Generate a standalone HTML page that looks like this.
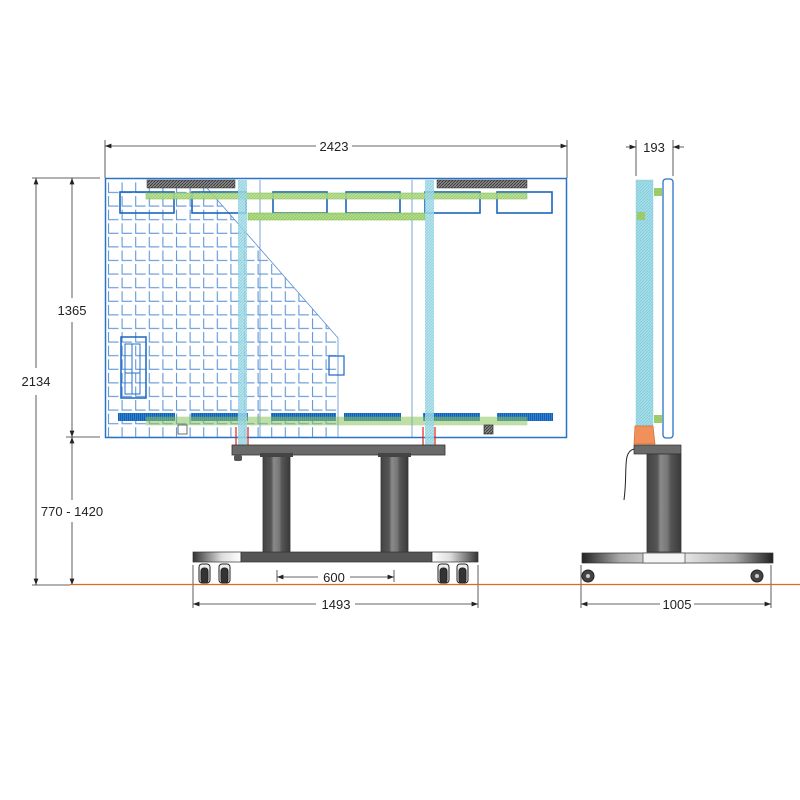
<!DOCTYPE html>
<html><head><meta charset="utf-8"><style>
html,body{margin:0;padding:0;background:#fff;width:800px;height:800px;overflow:hidden}
svg{display:block}
text{font-family:"Liberation Sans",sans-serif;font-size:13px;fill:#222}
</style></head><body>
<svg width="800" height="800" viewBox="0 0 800 800" xmlns="http://www.w3.org/2000/svg">
<defs>
<pattern id="grid" x="107" y="181" width="13.6" height="13.6" patternUnits="userSpaceOnUse">
<path d="M1.5 1.5 V11.5 H11.5" fill="none" stroke="#5f96d8" stroke-width="1.1"/>
</pattern>
<clipPath id="gclip"><polygon points="105,180 200,180 338,338 338,437 105,437"/></clipPath>
<pattern id="hatch" width="3" height="3" patternUnits="userSpaceOnUse"><rect width="3" height="3" fill="#a9dde8"/><path d="M0 3 L3 0" stroke="#7ccadb" stroke-width="0.8"/></pattern>
<pattern id="ghatch" width="3" height="3" patternUnits="userSpaceOnUse"><rect width="3" height="3" fill="#b5dd8c"/><path d="M0 3 L3 0" stroke="#8dc560" stroke-width="0.8"/></pattern>
<pattern id="dhatch" width="3" height="3" patternUnits="userSpaceOnUse"><rect width="3" height="3" fill="#888"/><path d="M0 3 L3 0" stroke="#333" stroke-width="0.8"/></pattern>
<pattern id="bbar" width="2" height="8" patternUnits="userSpaceOnUse"><rect width="2" height="8" fill="#2d7fd0"/><rect width="1" height="8" fill="#1560b0"/></pattern>
<linearGradient id="gl" x1="0" x2="1"><stop offset="0" stop-color="#333"/><stop offset="0.6" stop-color="#ddd"/><stop offset="1" stop-color="#fff"/></linearGradient>
<linearGradient id="gr" x1="1" x2="0"><stop offset="0" stop-color="#333"/><stop offset="0.6" stop-color="#ddd"/><stop offset="1" stop-color="#fff"/></linearGradient>
<linearGradient id="gb" x1="0" x2="1"><stop offset="0" stop-color="#222"/><stop offset="0.2" stop-color="#aaa"/><stop offset="0.5" stop-color="#eee"/><stop offset="0.8" stop-color="#aaa"/><stop offset="1" stop-color="#222"/></linearGradient>
<linearGradient id="col" x1="0" x2="1"><stop offset="0" stop-color="#444"/><stop offset="0.3" stop-color="#555"/><stop offset="0.4" stop-color="#8a8a8a"/><stop offset="0.6" stop-color="#777"/><stop offset="0.7" stop-color="#555"/><stop offset="1" stop-color="#3a3a3a"/></linearGradient>
<marker id="ar" markerWidth="8" markerHeight="6" refX="8" refY="3" orient="auto-start-reverse"><path d="M0 0 L8 3 L0 6 z" fill="#222"/></marker>
</defs>

<!-- dimensions -->
<g stroke="#333" stroke-width="0.8" fill="none">
<line x1="105" y1="140" x2="105" y2="178"/><line x1="567" y1="140" x2="567" y2="178"/>
<line x1="105" y1="146" x2="316" y2="146" marker-start="url(#ar)"/><line x1="352" y1="146" x2="567" y2="146" marker-end="url(#ar)"/>
<line x1="32" y1="178" x2="100" y2="178"/><line x1="66" y1="437" x2="100" y2="437"/><line x1="32" y1="585" x2="70" y2="585"/>
<line x1="36" y1="178" x2="36" y2="368" marker-start="url(#ar)"/><line x1="36" y1="395" x2="36" y2="585" marker-end="url(#ar)"/>
<line x1="72" y1="178" x2="72" y2="298" marker-start="url(#ar)"/><line x1="72" y1="322" x2="72" y2="437" marker-end="url(#ar)"/>
<line x1="72" y1="437" x2="72" y2="500" marker-start="url(#ar)"/><line x1="72" y1="522" x2="72" y2="585" marker-end="url(#ar)"/>
<line x1="193" y1="565" x2="193" y2="608"/><line x1="478" y1="565" x2="478" y2="608"/>
<line x1="193" y1="604" x2="316" y2="604" marker-start="url(#ar)"/><line x1="355" y1="604" x2="478" y2="604" marker-end="url(#ar)"/>
<line x1="277" y1="570" x2="277" y2="582"/><line x1="394" y1="570" x2="394" y2="582"/>
<line x1="277" y1="577" x2="318" y2="577" marker-start="url(#ar)"/><line x1="350" y1="577" x2="394" y2="577" marker-end="url(#ar)"/>
<line x1="581" y1="565" x2="581" y2="608"/><line x1="771" y1="565" x2="771" y2="608"/>
<line x1="581" y1="604" x2="660" y2="604" marker-start="url(#ar)"/><line x1="694" y1="604" x2="771" y2="604" marker-end="url(#ar)"/>
<line x1="636" y1="140" x2="636" y2="176"/><line x1="673" y1="140" x2="673" y2="176"/>
<line x1="626" y1="147" x2="636" y2="147" marker-end="url(#ar)"/><line x1="684" y1="147" x2="673" y2="147" marker-end="url(#ar)"/>
</g>
<line x1="70" y1="584.5" x2="800" y2="584.5" stroke="#e06a1c" stroke-width="1.3"/>
<text x="334" y="151" text-anchor="middle">2423</text>
<text x="36" y="386" text-anchor="middle">2134</text>
<text x="72" y="315" text-anchor="middle">1365</text>
<text x="72" y="516" text-anchor="middle">770 - 1420</text>
<text x="336" y="609" text-anchor="middle">1493</text>
<text x="334" y="582" text-anchor="middle">600</text>
<text x="677" y="609" text-anchor="middle">1005</text>
<text x="654" y="152" text-anchor="middle">193</text>

<!-- front screen -->
<rect x="105.5" y="178.5" width="461" height="259" fill="#fff" stroke="#2a72c8" stroke-width="1.5"/>
<rect x="105" y="180" width="233" height="258" fill="url(#grid)" clip-path="url(#gclip)"/>
<polyline points="200,180 338,338 338,437" fill="none" stroke="#5a8fd0" stroke-width="0.8"/>
<line x1="260" y1="180" x2="260" y2="437" stroke="#5a8fd0" stroke-width="0.8"/>
<line x1="412" y1="180" x2="412" y2="437" stroke="#5a8fd0" stroke-width="0.8"/>
<!-- top brackets -->
<g fill="none" stroke="#1a66c0" stroke-width="1.6">
<rect x="120" y="192" width="54" height="21"/><rect x="192" y="192" width="54" height="21"/><rect x="273" y="192" width="54" height="21"/>
<rect x="346" y="192" width="54" height="21"/><rect x="425" y="192" width="55" height="21"/><rect x="497" y="192" width="55" height="21"/>
</g>
<rect x="147" y="180" width="88" height="8" fill="url(#dhatch)" stroke="#333" stroke-width="0.5"/>
<rect x="437" y="180" width="90" height="8" fill="url(#dhatch)" stroke="#333" stroke-width="0.5"/>
<rect x="146" y="193" width="381" height="6" fill="url(#ghatch)" stroke="#7fc050" stroke-width="0.6" opacity="0.9"/>
<rect x="248" y="213" width="177" height="7" fill="url(#ghatch)" stroke="#7fc050" stroke-width="0.6"/>
<!-- bottom bars -->
<g fill="url(#bbar)">
<rect x="118" y="413" width="57" height="8"/><rect x="191" y="413" width="57" height="8"/><rect x="271" y="413" width="65" height="8"/>
<rect x="344" y="413" width="57" height="8"/><rect x="423" y="413" width="57" height="8"/><rect x="497" y="413" width="56" height="8"/>
</g>
<rect x="146" y="417" width="381" height="8" fill="#8dc560" opacity="0.55" stroke="#7fc050" stroke-width="0.6"/>
<rect x="178" y="425" width="9" height="9" fill="#fff" stroke="#333" stroke-width="0.7"/>
<rect x="484" y="425" width="9" height="9" fill="url(#dhatch)" stroke="#333" stroke-width="0.7"/>
<!-- left box -->
<rect x="121" y="337" width="25" height="61" fill="none" stroke="#1a66c0" stroke-width="1.5"/>
<rect x="125" y="344" width="15" height="50" fill="none" stroke="#2a72c8" stroke-width="1"/>
<line x1="132" y1="344" x2="132" y2="394" stroke="#2a72c8"/><line x1="125" y1="373" x2="140" y2="373" stroke="#2a72c8"/>
<rect x="329" y="356" width="15" height="19" fill="none" stroke="#1a66c0" stroke-width="1.2"/>
<!-- vertical cyan strips -->
<rect x="238" y="180" width="9" height="266" fill="url(#hatch)" opacity="0.85"/>
<rect x="425" y="180" width="9" height="266" fill="url(#hatch)" opacity="0.85"/>
<g stroke="#d22" stroke-width="1.2"><line x1="236" y1="427" x2="236" y2="446"/><line x1="248" y1="427" x2="248" y2="446"/><line x1="423" y1="427" x2="423" y2="446"/><line x1="435" y1="427" x2="435" y2="446"/></g>

<!-- stand front -->
<rect x="232" y="445" width="213" height="10" fill="#6a6a6a" stroke="#333" stroke-width="0.8"/>
<rect x="234" y="455" width="8" height="6" rx="2" fill="#555"/>
<rect x="263" y="455" width="27" height="98" fill="url(#col)" stroke="#333" stroke-width="0.8"/>
<rect x="381" y="455" width="27" height="98" fill="url(#col)" stroke="#333" stroke-width="0.8"/>
<rect x="260" y="453" width="33" height="4" fill="#444"/><rect x="378" y="453" width="33" height="4" fill="#444"/>
<rect x="193" y="552" width="48" height="10" fill="url(#gl)" stroke="#333" stroke-width="0.7"/>
<rect x="241" y="552" width="191" height="10" fill="#555" stroke="#333" stroke-width="0.7"/>
<rect x="432" y="552" width="46" height="10" fill="url(#gr)" stroke="#333" stroke-width="0.7"/>
<g fill="#333" stroke="#222">
<rect x="199" y="564" width="11" height="19" rx="3" fill="#eee"/><rect x="201" y="568" width="7" height="15" rx="3"/>
<rect x="219" y="564" width="11" height="19" rx="3" fill="#eee"/><rect x="221" y="568" width="7" height="15" rx="3"/>
<rect x="438" y="564" width="11" height="19" rx="3" fill="#eee"/><rect x="440" y="568" width="7" height="15" rx="3"/>
<rect x="457" y="564" width="11" height="19" rx="3" fill="#eee"/><rect x="459" y="568" width="7" height="15" rx="3"/>
</g>

<!-- side view -->
<rect x="636" y="180" width="17" height="248" fill="url(#hatch)" stroke="#8fd0e0" stroke-width="0.5"/>
<rect x="663" y="179" width="10" height="259" rx="3" fill="#fff" stroke="#2a72c8" stroke-width="1.3"/>
<rect x="654" y="188" width="8" height="8" fill="#9ccc6a"/><rect x="637" y="212" width="8" height="8" fill="#9ccc6a"/><rect x="654" y="415" width="8" height="8" fill="#9ccc6a"/>
<path d="M635 426 H653 L655 444 H634 Z" fill="#f0905a" stroke="#d86a2a" stroke-width="0.7"/>
<rect x="634" y="445" width="47" height="9" fill="#6a6a6a" stroke="#333" stroke-width="0.7"/>
<rect x="647" y="454" width="34" height="98" fill="url(#col)" stroke="#333" stroke-width="0.8"/>
<path d="M634 449 C622 452 628 470 624 500" fill="none" stroke="#222" stroke-width="1"/>
<rect x="582" y="553" width="191" height="10" fill="url(#gb)" stroke="#333" stroke-width="0.7"/>
<rect x="643" y="553" width="42" height="10" fill="#f5f5f5" stroke="#444" stroke-width="0.7"/>
<circle cx="588" cy="576" r="6" fill="#444" stroke="#222"/><circle cx="588" cy="576" r="2" fill="#ccc"/>
<circle cx="757" cy="576" r="6" fill="#444" stroke="#222"/><circle cx="757" cy="576" r="2" fill="#ccc"/>
</svg>
</body></html>
